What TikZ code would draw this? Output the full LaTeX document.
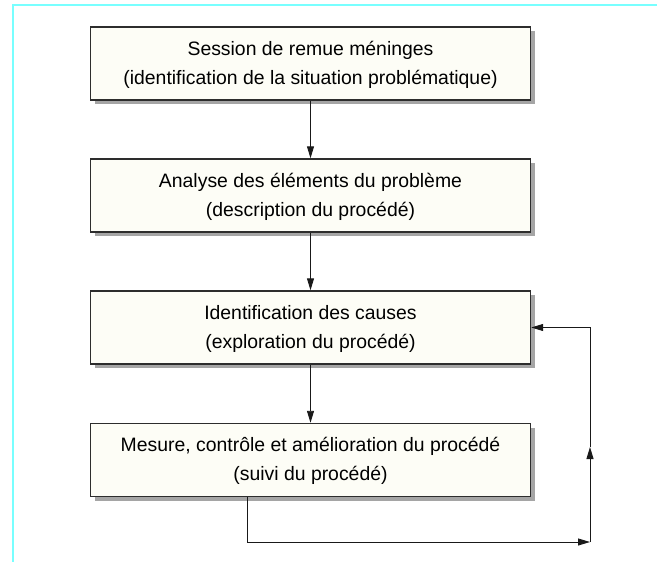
\documentclass[tikz,border=0pt]{standalone}
\usepackage{fontspec}
\setmainfont{Liberation Sans}
\usetikzlibrary{arrows.meta,shadows}
\definecolor{boxfill}{RGB}{253,253,246}
\definecolor{boxline}{RGB}{45,45,45}
\definecolor{shadowgray}{RGB}{165,165,165}
\definecolor{frameline}{RGB}{120,255,255}
\newcommand{\ls}{\rule[-5pt]{0pt}{22pt}}
\begin{document}
\begin{tikzpicture}[x=1pt,y=-1pt,
  stepbox/.style={draw=boxline, line width=1.4pt, fill=boxfill,
    minimum width=440pt, minimum height=73pt, inner sep=0pt, align=center,
    font=\fontsize{19.4}{29}\selectfont,
    drop shadow={shadow xshift=4pt, shadow yshift=-4pt, fill=shadowgray, opacity=1}},
  arr/.style={draw=black!90, line width=0.9pt, -{Triangle[length=12pt,width=7pt]}},
  frame/.style={draw=frameline, line width=1.5pt}]
\useasboundingbox (0,0) rectangle (657,562);
\draw[frame] (13,562) -- (13,5) -- (657,5);

\node[stepbox] (b1) at (310.5,63.5) {\ls Session de remue méninges\\\ls (identification de la situation problématique)};
\node[stepbox] (b2) at (310.5,195.5) {\ls Analyse des éléments du problème\\\ls (description du procédé)};
\node[stepbox] (b3) at (310.5,327.5) {\ls Identification des causes\\\ls (exploration du procédé)};
\node[stepbox] (b4) at (310.5,460) {\ls Mesure, contrôle et amélioration du procédé\\\ls (suivi du procédé)};

\draw[arr] (b1) -- (b2);
\draw[arr] (b2) -- (b3);
\draw[arr] (b3) -- (b4);

\coordinate (c1) at (247,542);
\coordinate (c2) at (590,542);
\coordinate (c3) at (590,447);
\draw[arr] (c1 |- b4.south) -- (c1) -- (c2);
\draw[arr] (c2) -- (c3);
\draw[arr] (c3) -- (c3 |- b3.east) -- (b3.east);
\end{tikzpicture}
\end{document}
